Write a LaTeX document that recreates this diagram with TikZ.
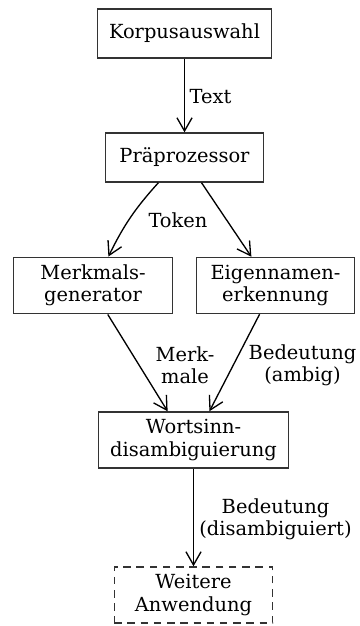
\documentclass[tikz,border=0pt]{standalone}
\usepackage{fontspec}
\setmainfont{DejaVu Serif}
\usepackage{tikz}
\usetikzlibrary{arrows.meta}

\begin{document}
\begin{tikzpicture}[x=0.53pt,y=-0.53pt,font=\fontsize{10.3pt}{11.9pt}\selectfont]
\useasboundingbox (0,0) rectangle (359,626);
\begin{scope}[every node/.style={draw=black!80,line width=0.7pt,align=center,
                                 minimum width=84pt,minimum height=26pt,
                                 inner xsep=6pt,inner ysep=4pt}]
    \node (korpus) at (184.5,33.5) {Korpusauswahl};
    \node (praepro) at (184.5,157.5) {Präprozessor};
    \node (merkmal) at (93,285.5) {Merkmals-\\generator};
    \node (eigen) at (275.5,285.5) {Eigennamen-\\erkennung};
    \node (wsd) at (193.5,440) {Wortsinn-\\disambiguierung};
    \node[dash pattern=on 4pt off 3pt] (weitere) at (193.5,595) {Weitere\\Anwendung};
\end{scope}
\begin{scope}[every node/.style={align=center}]
    \node (ltext) at (210.5,97) {Text};
    \node (ltoken) at (178,220) {Token};
    \node (lmerk) at (185,365) {Merk-\\male};
    \node (lambig) at (302.5,365) {Bedeutung\\(ambig)};
    \node (ldisamb) at (275.5,519) {Bedeutung\\(disambiguiert)};
\end{scope}
\begin{scope}[>={Straight Barb[length=7pt,width=8pt]},
              every edge/.style={draw=black,line width=0.7pt}]
    \path [->] (korpus) edge (praepro);
    \path [->] (praepro.224) edge[bend right=8] (merkmal.62);
    \path [->] (praepro.304) edge (eigen.130);
    \path [->] (merkmal.297) edge (wsd.132);
    \path [->] (eigen.241) edge (wsd.61);
    \path [->] (wsd) edge (weitere);
\end{scope}
\end{tikzpicture}
\end{document}
